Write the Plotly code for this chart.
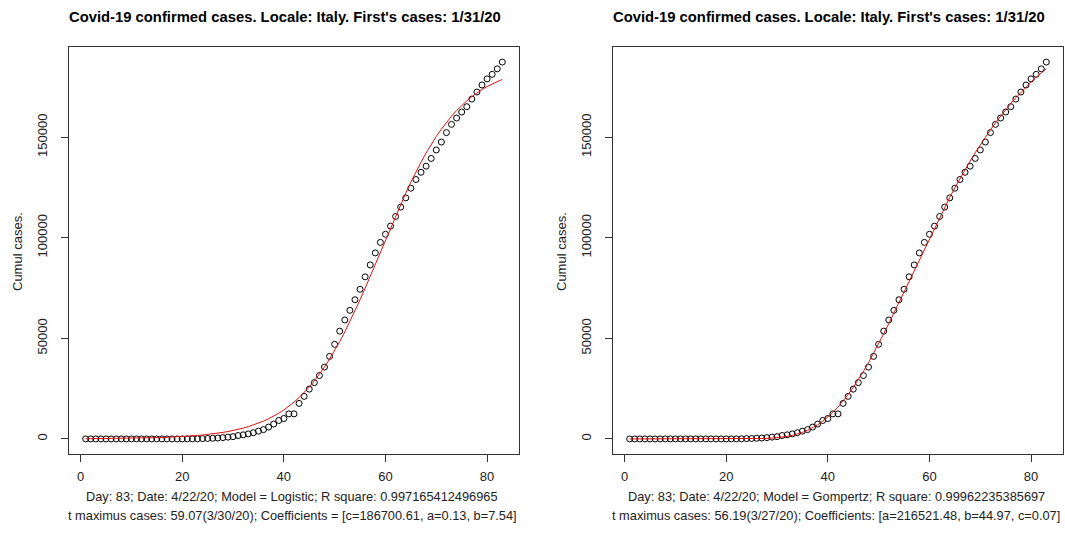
import plotly.graph_objects as go

# Italy, cumulative confirmed COVID-19 cases, day 1 = 1/31/20 ... day 83 = 4/22/20
days = list(range(1, 84))
cases = [
    2, 2, 2, 2, 2, 2, 2, 3, 3, 3,
    3, 3, 3, 3, 3, 3, 3, 3, 3, 3,
    3, 20, 62, 155, 229, 322, 453, 655, 888, 1128,
    1694, 2036, 2502, 3089, 3858, 4636, 5883, 7375, 9172, 10149,
    12462, 12462, 17660, 21157, 24747, 27980, 31506, 35713, 41035, 47021,
    53578, 59138, 63927, 69176, 74386, 80589, 86498, 92472, 97689, 101739,
    105792, 110574, 115242, 119827, 124632, 128948, 132547, 135586, 139422, 143626,
    147577, 152271, 156363, 159516, 162488, 165155, 168941, 172434, 175925, 178972,
    181228, 183957, 187327,
]

# fitted values, logistic model
logistic_fit = [
    98, 112, 127, 145, 165, 188, 214, 244, 278, 316,
    360, 410, 467, 531, 605, 688, 784, 892, 1015, 1155,
    1314, 1495, 1700, 1934, 2199, 2500, 2841, 3230, 3668, 4167,
    4731, 5368, 6089, 6901, 7815, 8857, 10020, 11329, 12795, 14428,
    16262, 18283, 20541, 23031, 25813, 28843, 32157, 35766, 39672, 43856,
    48407, 53204, 58289, 63612, 69174, 74920, 80823, 86837, 92886, 98953,
    104952, 110881, 116656, 122236, 127611, 132740, 137587, 142140, 146387, 150364,
    153997, 157366, 160434, 163246, 165780, 168078, 170145, 171999, 173670, 175159,
    176489, 177673, 178728,
]

# fitted values, Gompertz model
gompertz_fit = [
    0, 0, 0, 0, 0, 0, 0, 0, 0, 0,
    0, 0, 0, 0, 0, 0, 0, 0, 1, 2,
    4, 9, 17, 31, 55, 95, 158, 253, 394, 596,
    877, 1258, 1762, 2414, 3243, 4270, 5521, 7018, 8793, 10846,
    13193, 15845, 18799, 22063, 25636, 29468, 33561, 37935, 42503, 47310,
    52290, 57378, 62596, 67879, 73228, 78619, 84010, 89402, 94728, 99990,
    105186, 110274, 115254, 120104, 124825, 129415, 133853, 138140, 142254, 146239,
    150049, 153687, 157172, 160507, 163690, 166721, 169601, 172329, 174927, 177374,
    179713, 181921, 184000,
]

title_text = "Covid-19 confirmed cases. Locale: Italy. First's cases: 1/31/20"
y_label = "Cumul cases."
x_ticks = [0, 20, 40, 60, 80]
y_ticks = [0, 50000, 100000, 150000]
sub_left = [
    "Day: 83; Date: 4/22/20; Model = Logistic; R square: 0.997165412496965",
    "t maximus cases: 59.07(3/30/20); Coefficients = [c=186700.61, a=0.13, b=7.54]",
]
sub_right = [
    "Day: 83; Date: 4/22/20; Model = Gompertz; R square: 0.99962235385697",
    "t maximus cases: 56.19(3/27/20); Coefficients: [a=216521.48, b=44.97, c=0.07]",
]

W, H = 1065, 533
FONT = "Liberation Sans, Arial, sans-serif"
AX = "#333333"

# panel boxes in pixels: (left, right), shared top/bottom
panels = [(69, 519), (613, 1063)]
top_px, bot_px = 47, 454

# R-style 4% axis expansion
xr = [1 - 0.04 * 82, 83 + 0.04 * 82]
all_y = cases + logistic_fit + gompertz_fit
ymin, ymax = min(cases), max(all_y)
yr = [ymin - 0.04 * (ymax - ymin), ymax + 0.04 * (ymax - ymin)]

fig = go.Figure()

fits = [logistic_fit, gompertz_fit]
for i, fit in enumerate(fits):
    xa = "x" if i == 0 else "x2"
    ya = "y" if i == 0 else "y2"
    fig.add_trace(go.Scatter(
        x=days, y=cases, mode="markers", xaxis=xa, yaxis=ya,
        marker=dict(symbol="circle-open", size=6, color="black", line=dict(width=1)),
        showlegend=False, hoverinfo="x+y",
    ))
    fig.add_trace(go.Scatter(
        x=days, y=fit, mode="lines", xaxis=xa, yaxis=ya,
        line=dict(color="#e01010", width=1),
        showlegend=False, hoverinfo="x+y",
    ))

def xaxis_cfg(l, r, anchor):
    return dict(
        domain=[l / W, r / W], range=xr, anchor=anchor,
        showline=True, linecolor=AX, linewidth=1, mirror=True,
        ticks="outside", ticklen=7, tickcolor=AX, tickwidth=1,
        tickvals=x_ticks, showgrid=False, zeroline=False,
        tickfont=dict(family=FONT, size=13, color="#222"),
        ticklabelstandoff=3,
    )

def yaxis_cfg(anchor):
    return dict(
        domain=[1 - bot_px / H, 1 - top_px / H], range=yr, anchor=anchor,
        showline=True, linecolor=AX, linewidth=1, mirror=True,
        ticks="outside", ticklen=7, tickcolor=AX, tickwidth=1,
        tickvals=y_ticks, ticktext=[str(v) for v in y_ticks],
        showgrid=False, zeroline=False, tickangle=-90,
        tickfont=dict(family=FONT, size=13, color="#222"),
        ticklabelstandoff=9,
    )

fig.update_layout(
    width=W, height=H,
    margin=dict(l=0, r=0, t=0, b=0),
    paper_bgcolor="white", plot_bgcolor="white",
    xaxis=xaxis_cfg(*panels[0], "y"),
    yaxis=yaxis_cfg("x"),
    xaxis2=xaxis_cfg(*panels[1], "y2"),
    yaxis2=yaxis_cfg("x2"),
)

annotations = []
for (l, r), subs in zip(panels, [sub_left, sub_right]):
    cx = (l + r) / 2
    annotations.append(dict(
        text=f"<b>{title_text}</b>", x=(cx - 9) / W, y=1 - 17 / H,
        xref="paper", yref="paper",
        xanchor="center", yanchor="middle", showarrow=False,
        font=dict(family=FONT, size=14.8, color="black"),
    ))
    annotations.append(dict(
        text=y_label, x=(l - 52) / W, y=1 - 252 / H, xref="paper", yref="paper",
        xanchor="center", yanchor="middle", showarrow=False, textangle=-90,
        font=dict(family=FONT, size=13, color="#222"),
    ))
    for k, line in enumerate(subs):
        annotations.append(dict(
            text=line, x=(cx - 2) / W, y=1 - (496 + 19 * k) / H,
            xref="paper", yref="paper",
            xanchor="center", yanchor="middle", showarrow=False,
            font=dict(family=FONT, size=12.8, color="#222"),
        ))
fig.update_layout(annotations=annotations)

fig.write_html("out.html")
